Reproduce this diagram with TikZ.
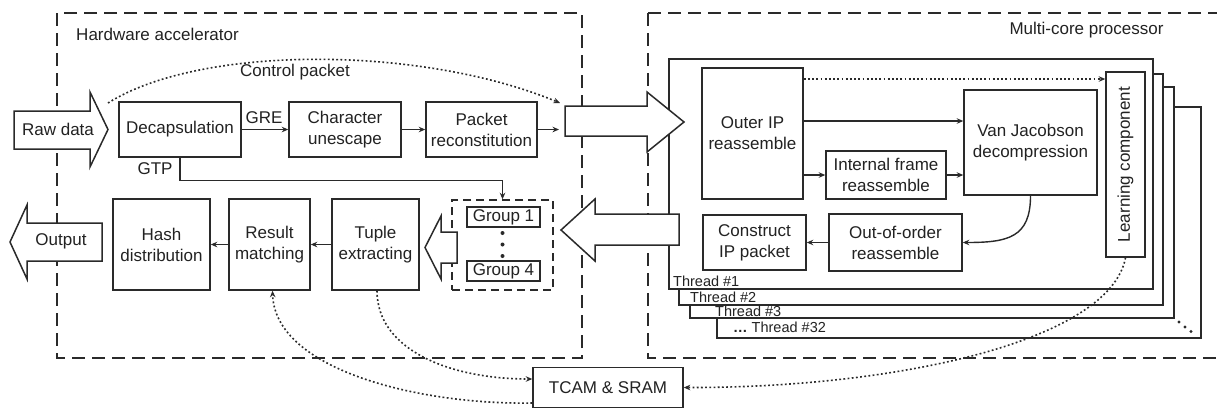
\documentclass[tikz,border=0pt]{standalone}
\usepackage{fontspec}
\setmainfont{Liberation Sans}
\usetikzlibrary{arrows.meta}
\definecolor{ln}{HTML}{2A2A2A}
\definecolor{txt}{HTML}{222222}
\begin{document}
\begin{tikzpicture}[x=1pt,y=-1pt,
  lab/.style={font=\fontsize{17}{21}\selectfont, text=txt, inner sep=0pt, align=center},
  small/.style={font=\fontsize{14.5}{16}\selectfont, text=txt, inner sep=0pt, anchor=west},
  wh/.style 2 args={minimum width=#1, minimum height=#2},
  blk/.style={lab, draw=ln, line width=1.5pt, fill=white},
  tip/.style={-{Stealth[length=6.5pt,width=5.5pt]}},
  con/.style={draw=ln, line width=1.4pt, tip},
  dot/.style={draw=ln, line width=1.6pt, dash pattern=on 1.8pt off 2.4pt, tip},
  cont/.style={draw=ln, line width=1.6pt, dash pattern=on 13pt off 7pt},
  barrow/.style={draw=ln, line width=1.5pt, fill=white, line join=miter},
  frame/.style={draw=ln, line width=1.5pt, fill=white}
]
\clip (0,0) rectangle (1217,408);
\fill[white] (0,0) rectangle (1217,408);

% containers
\draw[cont] (57,13) rectangle (582,358);
\draw[cont] (648,13) -- (1240,13) (648,13) -- (648,358) -- (1240,358);
\node[lab] (hwl) at (157.5,34) {Hardware accelerator};
\node[lab] (mcl) at (1086.5,30) {Multi-core processor};

% thread frames
\draw[frame] (717,107) rectangle (1201,338);
\draw[frame] (690,87) rectangle (1174,318);
\draw[frame] (679,74) rectangle (1163,305);
\draw[frame] (669,59) rectangle (1153,289);
\node[small] (t1) at (673,281) {Thread \#1};
\node[small] (t2) at (690,297) {Thread \#2};
\node[small] (t3) at (715,311.5) {Thread \#3};
\node[small] (t32) at (733,327) {{\bfseries\char"2026} Thread \#32};
\fill[ln] (1179,322) circle (1.7) (1185,327) circle (1.7) (1191,331.5) circle (1.7);

% hardware accelerator blocks
\node[blk, wh={122}{55}] (decap) at (180,129.5) {Decapsulation};
\node[blk, wh={112}{55}] (char) at (345,129.5) {Character\\unescape};
\node[blk, wh={111}{55}] (pkt) at (481.5,129.5) {Packet\\reconstitution};
\node[blk, wh={97}{91}] (hash) at (161.5,244.5) {Hash\\distribution};
\node[blk, wh={81}{91}] (result) at (269.5,244.5) {Result\\matching};
\node[blk, wh={87}{91}] (tuple) at (375.5,244.5) {Tuple\\extracting};
\node[draw=ln, line width=1.5pt, dash pattern=on 8pt off 5pt, wh={101}{90}, inner sep=0pt] (grp) at (502.5,245) {};
\node[blk, wh={73}{20}] (g1) at (503.5,217) {Group 1};
\node[blk, wh={73}{20}] (g4) at (503.5,271) {Group 4};
\fill[ln] (502.5,233) circle (2) (502.5,244.5) circle (2) (502.5,256) circle (2);
\node[lab] (gre) at (264,118) {GRE};
\node[lab] (gtp) at (155,169) {GTP};
\node[lab] (cpl) at (295,72) {Control packet};

% multi-core blocks
\node[blk, wh={101}{131}] (outer) at (752.5,133.5) {Outer IP\\reassemble};
\node[blk, wh={120}{48}] (int) at (886,175) {Internal frame\\reassemble};
\node[blk, wh={133}{105}] (vj) at (1030.5,142.5) {Van Jacobson\\decompression};
\node[blk, wh={133}{57}] (ooo) at (895.5,242.5) {Out-of-order\\reassemble};
\node[blk, wh={103}{55}] (cons) at (754.5,242.5) {Construct\\IP packet};
\node[blk, wh={185}{39}, rotate=90] (learn) at (1125.5,164.5) {Learning component};

% TCAM
\node[blk, wh={150}{40}] (tcam) at (608,387.5) {TCAM \& SRAM};

% block arrows
\draw[barrow] (14,111) -- (90,111) -- (90,92) -- (108,129.5) -- (90,167) -- (90,149) -- (14,149) -- cycle;
\node[lab] (raw) at (58,129.5) {Raw data};
\draw[barrow] (565,106) -- (647,106) -- (647,92) -- (684,122) -- (647,152) -- (647,136) -- (565,136) -- cycle;
\draw[barrow] (679,214) -- (595,214) -- (595,199) -- (561,230) -- (595,261) -- (595,245) -- (679,245) -- cycle;
\draw[barrow] (457,232) -- (441,232) -- (441,216) -- (425,247.5) -- (441,279) -- (441,263) -- (457,263) -- cycle;
\draw[barrow] (102,223) -- (27,223) -- (27,205) -- (10,242) -- (27,279) -- (27,261) -- (102,261) -- cycle;
\node[lab] (out) at (61,241.5) {Output};

% coordinates
\coordinate (cpS) at (108,103);
\coordinate (cpE) at (560,103);
\coordinate (rin) at (559,129.5);
\coordinate (ya) at (0,79);
\coordinate (yb) at (0,121);
\coordinate (yc) at (0,379);
\coordinate (yd) at (0,403);

% connectors
\draw[con] (decap.east) -- (char.west);
\draw[con] (char.east) -- (pkt.west);
\draw[con] (pkt.east) -- (rin);
\draw[con] (decap.south) -- ++(0,23) -| (grp.north);
\draw[dot] (cpS) .. controls (200,45) and (420,45) .. (cpE);
\draw[con] (tuple.west) -- (result.east);
\draw[con] (result.west) -- (hash.east);

\draw[dot] (outer.east |- ya) -- (learn.north |- ya);
\draw[con] (outer.east |- yb) -- (vj.west |- yb);
\draw[con] (outer.east |- int.west) -- (int.west);
\draw[con] (int.east) -- (vj.west |- int.east);
\draw[con] (vj.south) .. controls +(0,42) and +(45,0) .. (ooo.east);
\draw[con] (ooo.west) -- (cons.east);

\draw[dot] ([xshift=1.5pt]tuple.south) .. controls (377,350) and (450,379) .. (tcam.west |- yc);
\draw[dot] (tcam.west |- yd) .. controls (420,405) and (275,370) .. ([xshift=3pt]result.south);
\draw[dot] (learn.west) .. controls (1110,340) and (900,388) .. (tcam.east);
\end{tikzpicture}
\end{document}
